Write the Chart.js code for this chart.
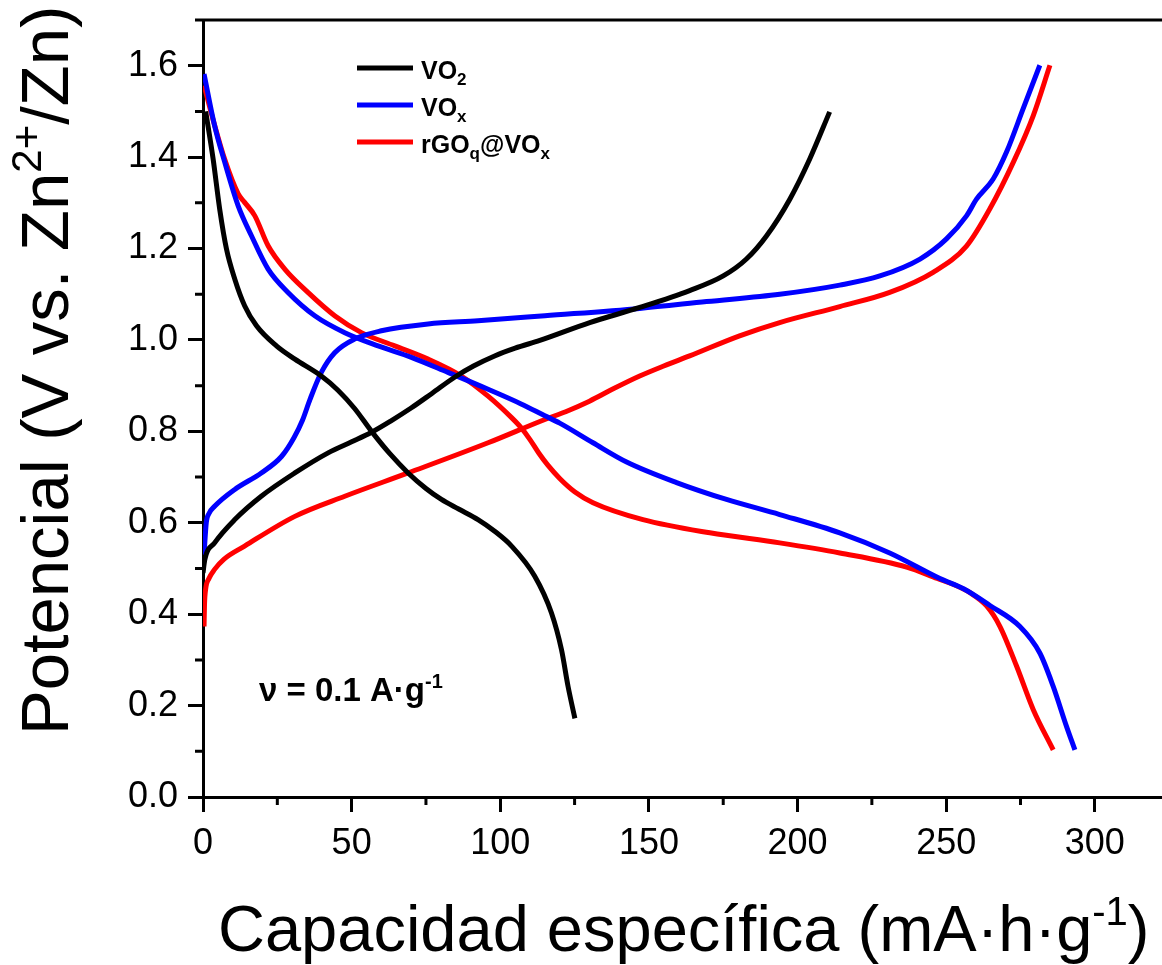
<!DOCTYPE html>
<html lang="es">
<head>
<meta charset="utf-8">
<title>Capacidad específica</title>
<script src="https://cdn.jsdelivr.net/npm/chart.js@4.4.1/dist/chart.umd.min.js"></script>
<style>
  html, body { margin: 0; padding: 0; background: #fff; }
  canvas { display: block; }
</style>
</head>
<body>
<canvas id="chart" width="1162" height="965"></canvas>
<script>
/* ─────────────────────────────────────────────
   Data  [capacidad mA·h/g, potencial V]
───────────────────────────────────────────── */
const vo2Discharge = [
    [0.9, 1.50], [3.4, 1.396], [5.6, 1.287], [7.9, 1.199], [10.7, 1.133], [14.0, 1.075],
    [18.0, 1.031], [24.7, 0.987], [30.9, 0.958], [39.8, 0.921], [45.4, 0.89], [51.0, 0.85],
    [56.7, 0.800], [63.0, 0.750], [69.0, 0.709], [75.0, 0.675], [80.2, 0.651], [86.0, 0.630],
    [92.5, 0.607], [98.0, 0.582], [103.8, 0.549], [111.6, 0.483], [117.2, 0.403], [120.6, 0.322],
    [122.8, 0.242], [125.1, 0.172]
];
const vo2Charge = [
    [0, 0.49], [0.6, 0.519], [3.9, 0.556], [10.7, 0.607], [19.6, 0.658], [30.9, 0.709],
    [42.1, 0.753], [50.0, 0.777], [56.7, 0.798], [63.0, 0.822], [70.0, 0.851], [77.0, 0.883],
    [85.0, 0.920], [91.0, 0.943], [98.1, 0.965], [105.0, 0.982], [113.3, 0.999], [130.1, 1.038],
    [146.9, 1.071], [163.7, 1.108], [175.0, 1.140], [182.8, 1.177], [189.6, 1.228], [197.4, 1.308],
    [204.1, 1.396], [210.8, 1.499]
];
const voxDischarge = [
    [0.35, 1.582], [3.9, 1.469], [7.3, 1.389], [11.8, 1.294], [16.3, 1.228], [21.9, 1.155],
    [28.6, 1.104], [37.6, 1.053], [47.7, 1.016], [58.9, 0.987], [70.1, 0.962], [82.4, 0.929],
    [95.9, 0.892], [107.0, 0.860], [115.0, 0.834], [120.0, 0.818], [131.2, 0.775], [142.5, 0.733],
    [159.3, 0.688], [176.1, 0.651], [194.0, 0.618], [214.2, 0.578], [231.0, 0.534], [247.9, 0.478],
    [256.0, 0.455], [264.7, 0.419], [274.8, 0.373], [281.5, 0.315], [286.0, 0.242], [290.5, 0.154],
    [293.3, 0.103]
];
const voxCharge = [
    [0.35, 0.53], [1.1, 0.600], [2.0, 0.620], [3.9, 0.636], [10.7, 0.673], [19.6, 0.709],
    [26.4, 0.745], [30.5, 0.785], [33.5, 0.825], [36.0, 0.870], [39.8, 0.929], [44.3, 0.972],
    [51.0, 1.002], [60.0, 1.020], [75.7, 1.035], [92.5, 1.042], [115.0, 1.053], [146.9, 1.069],
    [169.4, 1.084], [194.0, 1.100], [214.2, 1.120], [227.7, 1.140], [241.2, 1.177], [250.1, 1.221],
    [256.9, 1.272], [260.2, 1.308], [265.8, 1.352], [270.3, 1.411], [275.9, 1.506], [281.5, 1.601]
];
const rgoDischarge = [
    [0.35, 1.557], [3.9, 1.47], [7.3, 1.395], [11.8, 1.32], [14.0, 1.301], [17.4, 1.272],
    [21.9, 1.206], [27.5, 1.155], [35.3, 1.104], [44.3, 1.053], [53.3, 1.016], [64.5, 0.987],
    [75.7, 0.958], [86.9, 0.921], [95.9, 0.877], [103.8, 0.830], [107.0, 0.808], [110.0, 0.782],
    [113.0, 0.752], [116.0, 0.726], [120.0, 0.697], [125.0, 0.668], [131.2, 0.644], [148.0, 0.607],
    [170.5, 0.578], [194.0, 0.556], [214.2, 0.534], [236.7, 0.503], [247.0, 0.478], [253.5, 0.462],
    [258.0, 0.447], [263.6, 0.418], [268.1, 0.373], [273.7, 0.286], [279.3, 0.191], [286.0, 0.103]
];
const rgoCharge = [
    [0.35, 0.373], [0.5, 0.42], [0.9, 0.455], [2.0, 0.478], [3.9, 0.498], [7.0, 0.520],
    [14.0, 0.549], [30.9, 0.614], [47.7, 0.658], [69.0, 0.709], [95.9, 0.775], [115.0, 0.826],
    [122.0, 0.843], [130.0, 0.866], [138.0, 0.893], [146.9, 0.921], [155.0, 0.943], [163.7, 0.965],
    [180.5, 1.009], [194.0, 1.038], [214.2, 1.073], [231.0, 1.104], [245.6, 1.148], [256.9, 1.206],
    [264.7, 1.287], [272.6, 1.389], [279.3, 1.491], [284.9, 1.601]
];

// legend text as runs: [text, 'n' | 'sub' | 'sup']
const SERIES = [
    { color: '#000000', label: [['VO', 'n'], ['2', 'sub']], curves: [vo2Discharge, vo2Charge] },
    { color: '#0000ff', label: [['VO', 'n'], ['x', 'sub']], curves: [voxDischarge, voxCharge] },
    { color: '#ff0000', label: [['rGO', 'n'], ['q', 'sub'], ['@VO', 'n'], ['x', 'sub']], curves: [rgoDischarge, rgoCharge] }
];

const X_MIN = 0, X_MAX = 322.6, X_STEP = 50;
const Y_MIN = 0, Y_MAX = 1.7, Y_STEP = 0.2;

/* ─────────────────────────────────────────────
   Text helpers
───────────────────────────────────────────── */
const FONT = '"Liberation Sans", Arial, Helvetica, sans-serif';

function drawRuns(ctx, x, y, runs, size, bold) {
    let cx = x;
    const w = bold ? 'bold ' : '';
    runs.forEach(([text, kind]) => {
        let s = size, dy = 0;
        if (kind === 'sub') { s = Math.round(size * 0.66); dy = size * 0.22; }
        if (kind === 'sup') { s = Math.round(size * 0.62); dy = -size * 0.4; }
        ctx.font = `${w}${s}px ${FONT}`;
        ctx.fillText(text, cx, y + dy);
        cx += ctx.measureText(text).width;
    });
}

/* ─────────────────────────────────────────────
   Plugins: frame, minor ticks, legend, labels
───────────────────────────────────────────── */
const decorations = {
    id: 'decorations',
    afterDraw(chart) {
        const { ctx, chartArea, scales: { x, y } } = chart;
        ctx.save();
        ctx.strokeStyle = '#000';
        ctx.lineWidth = 3;
        ctx.beginPath();
        for (let v = X_STEP / 2; v < X_MAX; v += X_STEP) {
            const px = x.getPixelForValue(v);
            ctx.moveTo(px, chartArea.bottom);
            ctx.lineTo(px, chartArea.bottom + 8);
        }
        for (let v = Y_STEP / 2; v < Y_MAX + 0.01; v += Y_STEP) {
            const py = y.getPixelForValue(v);
            ctx.moveTo(chartArea.left, py);
            ctx.lineTo(chartArea.left - 8, py);
        }
        ctx.moveTo(chartArea.left - 8, chartArea.top);
        ctx.lineTo(chartArea.right, chartArea.top);
        ctx.stroke();

        // legend
        ctx.fillStyle = '#000';
        ctx.textBaseline = 'alphabetic';
        SERIES.forEach((s, i) => {
            const ly = 68 + i * 37;
            ctx.strokeStyle = s.color;
            ctx.lineWidth = 5;
            ctx.beginPath();
            ctx.moveTo(357, ly);
            ctx.lineTo(413, ly);
            ctx.stroke();
            drawRuns(ctx, 421, ly + 11, s.label, 25, true);
        });

        // current density note
        drawRuns(ctx, 259, 701, [['ν = 0.1 A·g', 'n'], ['-1', 'sup']], 33, true);

        // axis titles
        drawRuns(ctx, 218, 951, [['Capacidad específica (mA·h·g', 'n'], ['-1', 'sup'], [')', 'n']], 65, false);
        ctx.translate(68, 735);
        ctx.rotate(-Math.PI / 2);
        drawRuns(ctx, 0, 0, [['Potencial (V vs. Zn', 'n'], ['2+', 'sup'], ['/Zn)', 'n']], 67, false);
        ctx.restore();
    }
};

/* ─────────────────────────────────────────────
   Chart
───────────────────────────────────────────── */
const datasets = [];
SERIES.forEach((s, i) => {
    s.curves.forEach(curve => {
        datasets.push({
            data: curve.map(([cx, v]) => ({ x: cx, y: v })),
            borderColor: s.color,
            borderWidth: 5,
            showLine: true,
            pointRadius: 0,
            cubicInterpolationMode: 'monotone',
            borderCapStyle: 'butt',
            order: i + 1
        });
    });
});

const axisBase = {
    border: { display: true, color: '#000', width: 3 },
    grid: { drawOnChartArea: false, drawTicks: true, tickLength: 15, tickWidth: 3, tickColor: '#000', color: '#000' }
};

new Chart(document.getElementById('chart'), {
    type: 'scatter',
    data: { datasets },
    plugins: [decorations],
    options: {
        responsive: false,
        animation: false,
        layout: { padding: { top: 20, right: 0, left: 0, bottom: 0 } },
        plugins: { legend: { display: false }, tooltip: { enabled: false } },
        scales: {
            x: {
                ...axisBase,
                type: 'linear',
                min: X_MIN, max: X_MAX,
                ticks: { stepSize: X_STEP, includeBounds: false, color: '#000', padding: 10,
                         font: { family: FONT, size: 36 } },
                afterFit: scale => {
                    scale.height = 168;
                    scale.paddingLeft = 0;
                    scale.paddingRight = 0;
                }
            },
            y: {
                ...axisBase,
                type: 'linear',
                min: Y_MIN, max: Y_MAX,
                ticks: { stepSize: Y_STEP, includeBounds: false, color: '#000', padding: 10,
                         font: { family: FONT, size: 36 },
                         callback: v => v.toFixed(1) },
                afterFit: scale => {
                    scale.width = 203;
                    scale.paddingTop = 0;
                    scale.paddingBottom = 0;
                }
            }
        }
    }
});
</script>
</body>
</html>
